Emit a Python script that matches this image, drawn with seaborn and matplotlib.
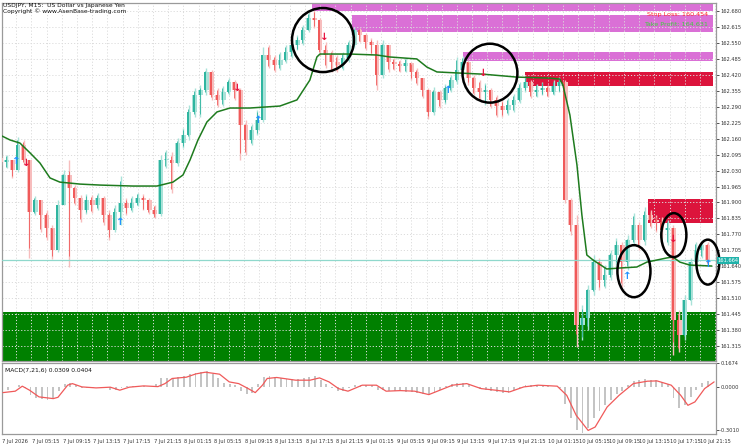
import numpy as np
import matplotlib
matplotlib.use("Agg")
import matplotlib.pyplot as plt
from matplotlib.patches import Ellipse, Rectangle
import seaborn as sns

sns.set_style("white")
plt.rcParams["font.family"] = ["DejaVu Sans"]

# ---------------- data ----------------
first_open = 162.081
close = [162.065,162.073,162.032,162.134,162.073,161.861,161.910,161.849,161.796,161.706,
         161.890,162.012,161.959,161.918,161.869,161.910,161.890,161.918,161.849,161.788,
         161.861,161.898,161.877,161.898,161.918,161.910,161.869,161.853,162.073,162.073,
         162.061,162.142,162.175,162.269,162.338,162.358,162.432,162.338,162.318,162.350,
         162.391,162.358,162.216,162.155,162.195,162.236,162.501,162.481,162.460,162.481,
         162.513,162.542,162.562,162.603,162.652,162.644,162.521,162.501,162.472,162.460,
         162.489,162.542,162.603,162.582,162.554,162.542,162.419,162.542,162.472,162.464,
         162.456,162.468,162.432,162.407,162.358,162.269,162.350,162.318,162.366,162.399,
         162.440,162.472,162.407,162.366,162.350,162.358,162.318,162.293,162.277,162.297,
         162.318,162.366,162.391,162.350,162.358,162.366,162.350,162.375,162.391,161.910,
         161.808,161.401,161.429,161.543,161.657,161.584,161.604,161.686,161.727,161.657,
         161.747,161.808,161.747,161.849,161.829,161.820,161.788,161.796,161.421,161.360,
         161.503,161.657,161.706,161.727,161.664]
high = [162.093,162.093,162.073,162.167,162.155,162.073,161.926,161.890,161.869,161.808,
        161.910,162.032,162.073,161.971,161.930,161.934,161.930,161.939,161.926,161.869,
        161.890,162.008,161.918,161.926,161.939,161.934,161.918,161.890,162.093,162.114,
        162.106,162.163,162.203,162.297,162.366,162.379,162.448,162.440,162.366,162.375,
        162.407,162.399,162.366,162.236,162.220,162.277,162.533,162.542,162.501,162.513,
        162.542,162.562,162.582,162.623,162.676,162.684,162.652,162.554,162.521,162.501,
        162.513,162.562,162.615,162.611,162.591,162.570,162.562,162.562,162.542,162.489,
        162.481,162.489,162.472,162.448,162.399,162.366,162.370,162.358,162.383,162.419,
        162.493,162.497,162.481,162.419,162.399,162.387,162.366,162.338,162.318,162.326,
        162.342,162.391,162.415,162.399,162.383,162.391,162.379,162.399,162.411,162.399,
        161.918,161.849,161.482,161.564,161.686,161.674,161.645,161.706,161.755,161.739,
        161.767,161.857,161.820,161.882,161.869,161.849,161.841,161.829,161.808,161.462,
        161.523,161.674,161.739,161.747,161.739]
low = [162.053,162.041,162.000,162.024,162.053,161.674,161.849,161.780,161.747,161.670,
       161.698,161.890,161.637,161.890,161.820,161.853,161.857,161.869,161.808,161.747,
       161.780,161.808,161.849,161.861,161.886,161.869,161.853,161.837,161.845,162.041,
       161.939,162.049,162.122,162.155,162.248,162.248,162.338,162.318,162.289,162.293,
       162.338,162.318,162.073,162.093,162.134,162.175,162.228,162.448,162.432,162.440,
       162.468,162.489,162.521,162.542,162.595,162.611,162.497,162.448,162.432,162.432,
       162.440,162.472,162.529,162.554,162.521,162.501,162.358,162.407,162.432,162.440,
       162.432,162.432,162.399,162.379,162.326,162.240,162.256,162.285,162.301,162.350,
       162.383,162.419,162.379,162.338,162.318,162.297,162.285,162.248,162.248,162.256,
       162.269,162.305,162.350,162.326,162.330,162.338,162.330,162.338,162.350,161.898,
       161.767,161.311,161.339,161.380,161.523,161.543,161.551,161.584,161.645,161.555,
       161.625,161.727,161.706,161.727,161.796,161.780,161.755,161.727,161.278,161.291,
       161.339,161.482,161.645,161.674,161.645]
bar_step = 3  # each candle = 3 x M15 units

macd_hist = [-0.03,-0.02,0.0,0.01,-0.01,-0.06,-0.08,-0.085,-0.09,-0.08,
             -0.03,0.02,0.025,0.01,-0.005,-0.01,-0.005,0.0,-0.01,-0.025,
             -0.02,-0.005,0.005,0.005,0.0,0.005,0.0,0.02,0.06,0.065,
             0.065,0.07,0.075,0.09,0.10,0.105,0.11,0.09,0.06,0.03,
             0.02,0.01,-0.03,-0.05,-0.04,0.02,0.07,0.075,0.07,0.06,
             0.055,0.055,0.055,0.06,0.07,0.075,0.05,0.02,-0.01,-0.03,
             -0.03,-0.01,0.01,0.015,0.015,0.01,-0.02,-0.02,-0.03,-0.03,
             -0.03,-0.035,-0.035,-0.04,-0.05,-0.06,-0.04,-0.02,0.005,0.02,
             0.03,0.03,0.02,0.0,-0.015,-0.02,-0.03,-0.035,-0.04,-0.04,
             -0.025,-0.005,0.01,0.015,0.01,0.01,0.005,0.0,-0.01,-0.12,
             -0.22,-0.30,-0.32,-0.29,-0.22,-0.17,-0.13,-0.09,-0.05,-0.03,
             0.01,0.04,0.045,0.055,0.05,0.045,0.035,0.02,-0.08,-0.15,
             -0.13,-0.07,-0.02,0.03,0.04]

sig_t = [0.5,7.0,10.7,14.5,19.5,27.0,29.5,34.6,37.1,42.1,49.6,57.1,62.1,67.1,74.7,82.2,85.9,
         89.7,97.2,102.2,107.2,114.7,119.8,124.8,129.8,133.5,137.3,139.8,144.8,154.8,162.4,
         167.4,172.4,177.4,182.4,189.9,197.4,202.5,210,217.5,225,237.5,245,252.6,260.1,267.6,
         275.1,282.6,292.7,297.7,302.7,309,312.7,319,325.3,332.8,340.3,345.3,352.8,357.8,
         361.6,365.3,370.4,375.4]
sig_v = [-0.040,-0.030,0.005,-0.023,-0.070,-0.082,-0.073,0.012,0.023,0.0,-0.007,-0.002,
         -0.023,-0.002,0.007,0.002,0.023,0.059,0.068,0.091,0.103,0.089,0.035,0.023,-0.012,
         -0.040,0.012,0.059,0.066,0.047,0.047,0.063,0.035,-0.012,-0.030,0.012,0.012,-0.030,
         -0.026,-0.030,-0.054,0.012,0.023,-0.012,-0.023,-0.035,0.0,0.012,0.005,-0.059,
         -0.199,-0.305,-0.281,-0.141,-0.059,0.023,0.040,0.042,0.012,-0.059,-0.129,-0.105,
         -0.012,0.035]

ma_t = [0.5,4.7,10,15.3,20.5,25.8,31,41.6,52.1,69.5,82.1,90.5,95.8,99.5,103.7,108.4,113.7,
        120.5,131,146.8,155.8,162.6,166.3,167.9,183.7,197.9,204.7,218.9,224.2,229.5,240,
        253.7,271.6,288.9,294.2,295.8,299.5,303.2,305.8,308.4,311.6,318.9,325.8,334.7,340,
        350.5,353.7,357.4,362.6,374.2]
ma_v = [162.171,162.155,162.142,162.102,162.061,162.000,161.983,161.975,161.971,161.967,
        161.967,161.983,162.012,162.073,162.155,162.228,162.269,162.285,162.285,162.293,
        162.318,162.399,162.493,162.505,162.505,162.501,162.493,162.485,162.452,162.432,
        162.428,162.423,162.411,162.407,162.403,162.379,162.256,162.053,161.849,161.686,
        161.666,161.629,161.633,161.637,161.657,161.674,161.678,161.657,161.645,161.641]

current_price = 161.664

price_ticks = [161.315,161.380,161.445,161.510,161.575,161.640,161.705,161.770,161.835,
               161.900,161.965,162.030,162.095,162.160,162.225,162.290,162.355,162.420,
               162.485,162.550,162.615,162.680]
time_ticks = [0,16,32,48,64,80,96,112,128,144,160,176,192,208,224,240,256,272,288,304,
              320,336,352,368]
time_labels = ["7 Jul 2026","7 Jul 05:15","7 Jul 09:15","7 Jul 13:15","7 Jul 17:15",
               "7 Jul 21:15","8 Jul 01:15","8 Jul 05:15","8 Jul 09:15","8 Jul 13:15",
               "8 Jul 17:15","8 Jul 21:15","9 Jul 01:15","9 Jul 05:15","9 Jul 09:15",
               "9 Jul 13:15","9 Jul 17:15","9 Jul 21:15","10 Jul 01:15","10 Jul 05:15",
               "10 Jul 09:15","10 Jul 13:15","10 Jul 17:15","10 Jul 21:15"]

zone_t0 = [163.7, 184.7, 243.2, 275.8, 340.5, 0.0]
zone_t1 = [375.0, 375.0, 375.0, 375.0, 375.0, 377.0]
zone_lo = [162.681, 162.593, 162.477, 162.374, 161.817, 161.20]
zone_hi = [162.713, 162.664, 162.514, 162.430, 161.913, 161.4535]
zone_col = ["#DA70D6", "#DA70D6", "#DA70D6", "#DC143C", "#DC143C", "#008000"]

circ_t = [169.5, 257.4, 333.2, 354.2, 372.1]
circ_p = [162.562, 162.427, 161.620, 161.767, 161.657]
circ_w = [32.6, 28.9, 17.4, 13.2, 12.1]
circ_h = [0.261, 0.240, 0.212, 0.179, 0.183]

up_arrow_t = [7.9, 62.6, 135.3, 235.3, 329.5, 372.6]
up_arrow_p = [162.069, 161.820, 162.236, 162.358, 161.600, 161.649]
dn_arrow_t = [13.2, 124.2, 170.0, 253.7, 353.7]
dn_arrow_p = [162.061, 162.366, 162.574, 162.427, 161.751]

# ---------------- figure ----------------
W, H = 743, 446
FS = 3.7
fig = plt.figure(figsize=(W / 100, H / 100), dpi=100)
fig.patch.set_facecolor("white")
ax = fig.add_axes([2 / W, 1 - 361 / H, 714 / W, 358 / H])
axm = fig.add_axes([2 / W, 1 - 434 / H, 714 / W, 71 / H])

XL = (0.53, 376.4)
ax.set_xlim(*XL)
ax.set_ylim(161.254, 162.713)

# zones
for t0, t1, lo, hi, col in zip(zone_t0, zone_t1, zone_lo, zone_hi, zone_col):
    ax.add_patch(Rectangle((t0, lo), t1 - t0, hi - lo, facecolor=col, edgecolor="none", zorder=1))

# grid (dotted, drawn over zones)
for pv in price_ticks:
    ax.axhline(pv, color="#DCDCDC", lw=0.7, ls=(0, (1.2, 2)), zorder=2)
for tv in np.arange(8, 377, 8):
    ax.axvline(tv, color="#DCDCDC", lw=0.7, ls=(0, (1.2, 2)), zorder=2)

# candles
c = np.array(close)
o = np.r_[first_open, c[:-1]]
h = np.maximum(np.array(high), np.maximum(o, c))
l = np.minimum(np.array(low), np.minimum(o, c))
t = np.arange(len(c)) * bar_step
up = c >= o
dark = np.where(up, "#2FB5A0", "#F05A5A")
light = np.where(up, "#A9E2D8", "#F7BDBD")
body_lo = np.minimum(o, c)
body_h = np.maximum(np.abs(c - o), 0.003)
ax.vlines(t, l, h, colors=light, lw=1.0, zorder=3)
ax.bar(t, body_h, bottom=body_lo, width=2.5, color=light, zorder=3, linewidth=0)
ax.vlines(t - 0.4, l + (h - l) * 0.1, h - (h - l) * 0.1, colors=dark, lw=0.6, zorder=3.5)
ax.bar(t - 0.4, body_h, bottom=body_lo, width=1.0, color=dark, zorder=3.6, linewidth=0)

# current price line
ax.axhline(current_price, color="#8FD8CC", lw=0.9, zorder=4)

# moving average
sns.lineplot(x=ma_t, y=ma_v, ax=ax, color="#1E7B1E", lw=1.1, zorder=5, sort=False)

# circles
for ct, cp, cw, ch in zip(circ_t, circ_p, circ_w, circ_h):
    ax.add_patch(Ellipse((ct, cp), cw, ch, fill=False, edgecolor="black", lw=1.8, zorder=6,
                         clip_on=False))

# arrows
for at, ap in zip(up_arrow_t, up_arrow_p):
    ax.text(at, ap, "\u2191", color="#1E90FF", fontsize=7.5, fontweight="bold",
            ha="center", va="center", zorder=7)
for at, ap in zip(dn_arrow_t, dn_arrow_p):
    ax.text(at, ap, "\u2193", color="#E8103C", fontsize=7.5, fontweight="bold",
            ha="center", va="center", zorder=7)

# zone texts
ax.text(372, 162.668, "Stop Loss: 160.454", color="#FF2A2A", fontsize=4.6, ha="right",
        va="center", zorder=8)
ax.text(372, 162.627, "Take Profit: 164.631", color="#3CD23C", fontsize=4.6, ha="right",
        va="center", zorder=8)

# axes styling main
ax.set_xticks([])
ax.yaxis.tick_right()
ax.set_yticks(price_ticks)
ax.set_yticklabels([f"{v:.3f}" for v in price_ticks])
ax.tick_params(axis="y", labelsize=FS, length=2, pad=1.0, colors="#333333", width=0.6)
for s in ax.spines.values():
    s.set_color("#9A9A9A")
    s.set_linewidth(0.9)
ax.set_xlabel("")
ax.set_ylabel("")

# price label on axis
ax.annotate(f"{current_price:.3f}", xy=(1.0, current_price), xycoords=("axes fraction", "data"),
            xytext=(1.2, 0), textcoords="offset points", fontsize=FS, color="white",
            va="center", ha="left",
            bbox=dict(boxstyle="square,pad=0.12", fc="#20B2AA", ec="none"), zorder=9,
            annotation_clip=False)

# titles
fig.text(3 / W, 1 - 5 / H, "USDJPY, M15:  US Dollar vs Japanese Yen", fontsize=4.3,
         va="center", ha="left", color="#111111")
fig.text(3 / W, 1 - 11.5 / H, "Copyright \u00a9 www.AsenBase-trading.com", fontsize=4.3,
         va="center", ha="left", color="#111111")

# ---------------- MACD panel ----------------
axm.set_xlim(*XL)
axm.set_ylim(-0.33, 0.1674)
axm.bar(t, macd_hist, width=1.0, color="#C4C4C4", linewidth=0, zorder=2)
sns.lineplot(x=sig_t, y=sig_v, ax=axm, color="#F05A5A", lw=0.9, zorder=3, sort=False)
axm.yaxis.tick_right()
axm.set_yticks([0.1674, 0.0, -0.301])
axm.set_yticklabels(["0.1674", "0.0000", "-0.3010"])
axm.tick_params(axis="y", labelsize=FS, length=2, pad=1.0, colors="#333333", width=0.6)
axm.set_xticks(time_ticks)
axm.set_xticklabels(time_labels, ha="left")
axm.tick_params(axis="x", labelsize=FS, length=2, pad=1.5, colors="#333333", width=0.6)
for s in axm.spines.values():
    s.set_color("#9A9A9A")
    s.set_linewidth(0.9)
axm.set_xlabel("")
axm.set_ylabel("")
axm.text(0.004, 0.93, "MACD(7,21,6) 0.0309 0.0404", transform=axm.transAxes, fontsize=4.3,
         va="top", ha="left", color="#111111")

fig.savefig("out.png", dpi=100)
